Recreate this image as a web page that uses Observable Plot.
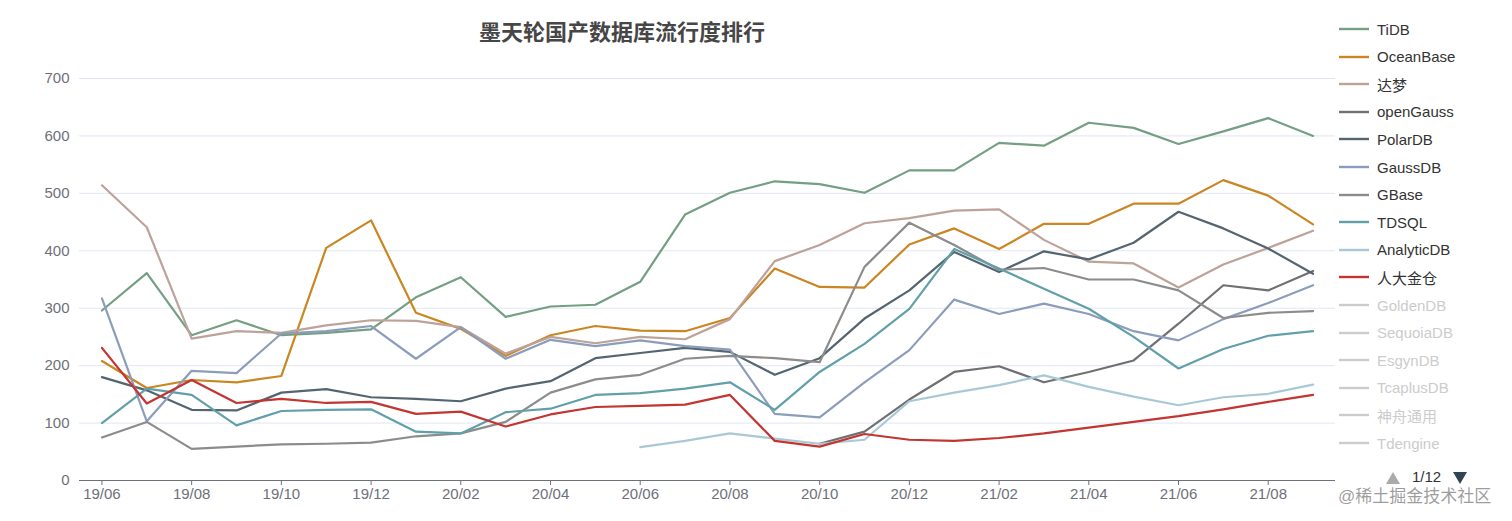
<!DOCTYPE html>
<html>
<head>
<meta charset="utf-8">
<script src="https://cdn.jsdelivr.net/npm/d3@7"></script>
<script src="https://cdn.jsdelivr.net/npm/@observablehq/plot@0.6"></script>
<style>
  html, body { margin: 0; padding: 0; background: #fff; }
  #wrap { position: relative; width: 1512px; height: 521px; overflow: hidden; font-family: "Liberation Sans", "Noto Sans CJK SC", sans-serif; }
  #chart { position: absolute; left: 0; top: 0; }
  #title { position: absolute; left: 322px; width: 600px; top: 20px; text-align: center; font: bold 22px/26px "Liberation Sans", "Noto Sans CJK SC", sans-serif; color: #464646; }
  .leg { position: absolute; left: 1338px; height: 20px; display: flex; align-items: center; font-size: 15px; white-space: nowrap; }
  .leg svg { margin-right: 7px; }
  .pg { position: absolute; }
  #wm { position: absolute; left: 1338px; top: 482px; font-size: 17px; color: rgba(140,140,140,0.85); white-space: nowrap; }
</style>
</head>
<body>
<div id="wrap">
  <div id="chart"></div>
  <div id="title">墨天轮国产数据库流行度排行</div>
  <div id="legend"></div>
  <svg class="pg" style="left:1385px;top:471px" width="16" height="14"><polygon points="8,1 15,13 1,13" fill="#aaaaaa"/></svg>
  <div class="pg" style="left:1412px;top:468px;font-size:15px;color:#333">1/12</div>
  <svg class="pg" style="left:1452px;top:471px" width="16" height="14"><polygon points="1,1 15,1 8,13" fill="#2f4554"/></svg>
  <div id="wm">@稀土掘金技术社区</div>
</div>
<script>
const months = ["19/06","19/07","19/08","19/09","19/10","19/11","19/12","20/01","20/02","20/03","20/04","20/05","20/06","20/07","20/08","20/09","20/10","20/11","20/12","21/01","21/02","21/03","21/04","21/05","21/06","21/07","21/08","21/09"];
const xTickLabels = ["19/06","19/08","19/10","19/12","20/02","20/04","20/06","20/08","20/10","20/12","21/02","21/04","21/06","21/08"];
const yTicks = [0,100,200,300,400,500,600,700];

const tidb       = [296,361,253,279,253,257,263,319,354,285,303,306,346,463,501,521,516,501,540,540,588,583,623,614,586,608,631,600];
const oceanbase  = [208,161,175,171,182,405,453,292,264,217,253,269,261,260,283,369,337,336,411,439,403,447,447,482,482,523,496,446];
const dameng     = [514,441,247,260,257,270,279,278,267,221,250,239,250,246,281,382,410,448,457,470,472,419,381,378,336,376,405,435];
const opengauss  = [null,null,null,null,null,null,null,null,null,null,null,null,null,null,null,null,64,85,141,189,199,171,189,209,273,340,331,365];
const polardb    = [180,157,123,122,153,159,145,142,138,160,173,213,222,231,224,184,213,282,331,398,363,399,385,414,468,439,404,360];
const gaussdb    = [317,103,191,187,256,260,269,212,267,212,245,234,244,234,228,116,110,171,227,315,290,308,290,260,244,281,309,340];
const gbase      = [75,102,55,59,63,64,66,77,82,102,153,176,184,212,217,213,206,372,449,410,367,370,350,350,331,283,292,295];
const tdsql      = [100,160,149,96,121,123,124,85,82,119,125,149,152,160,171,123,189,238,299,403,369,334,299,250,195,229,252,260];
const analyticdb = [null,null,null,null,null,null,null,null,null,null,null,null,58,69,82,73,64,71,138,153,166,183,163,146,131,145,151,167];
const kingbase   = [231,134,175,135,142,135,137,116,120,94,115,128,130,132,149,69,59,81,71,69,74,82,92,102,112,124,137,149];

const activeNames  = ["TiDB","OceanBase","达梦","openGauss","PolarDB","GaussDB","GBase","TDSQL","AnalyticDB","人大金仓"];
const activeColors = ["#749f83","#ca8622","#bda29a","#6e7074","#546570","#8b9dbb","#8c8c8c","#61a0a8","#a9c8d6","#c23531"];
const activeValues = [tidb, oceanbase, dameng, opengauss, polardb, gaussdb, gbase, tdsql, analyticdb, kingbase];
const hiddenNames  = ["GoldenDB","SequoiaDB","EsgynDB","TcaplusDB","神舟通用","Tdengine"];

const rows = [];
activeNames.forEach((name, si) => {
  activeValues[si].forEach((v, i) => {
    if (v != null) rows.push({name, color: activeColors[si], idx: i, value: v});
  });
});
const xTickIdx = xTickLabels.map(l => months.indexOf(l));

const chart = Plot.plot({
  width: 1512,
  height: 521,
  marginTop: 78,
  marginBottom: 41,
  marginLeft: 79,
  marginRight: 177,
  style: { fontFamily: '"Liberation Sans", "Noto Sans CJK SC", sans-serif', fontSize: "15px", background: "transparent", overflow: "visible" },
  x: { type: "linear", domain: [-0.5, months.length - 0.5] },
  y: { domain: [0, 700] },
  color: { type: "identity" },
  marks: [
    Plot.gridY(yTicks.filter(d => d > 0), { stroke: "#e0e6f1", strokeOpacity: 1, strokeWidth: 1 }),
    Plot.axisY(yTicks, { tickSize: 0, tickPadding: 10, color: "#6e7079", label: null, fontSize: 15 }),
    Plot.axisX(xTickIdx, { tickSize: 5, tickPadding: 3, color: "#6e7079", label: null, fontSize: 15, tickFormat: i => months[i] }),
    Plot.ruleY([0], { stroke: "#6e7079", strokeWidth: 1 }),
    Plot.line(rows, { x: "idx", y: "value", z: "name", stroke: "color", strokeWidth: 2.2, strokeLinejoin: "round" })
  ]
});
document.getElementById("chart").appendChild(chart);

const legend = document.getElementById("legend");
const allNames = activeNames.concat(hiddenNames);
allNames.forEach((name, i) => {
  const active = i < activeNames.length;
  const col = active ? activeColors[i] : "#cccccc";
  const div = document.createElement("div");
  div.className = "leg";
  div.style.top = (19 + 27.6 * i) + "px";
  div.style.color = active ? "#333333" : "#cccccc";
  div.innerHTML = `<svg width="32" height="6"><line x1="1" y1="3" x2="31" y2="3" stroke="${col}" stroke-width="2.4"/></svg><span>${name}</span>`;
  legend.appendChild(div);
});
</script>
</body>
</html>
